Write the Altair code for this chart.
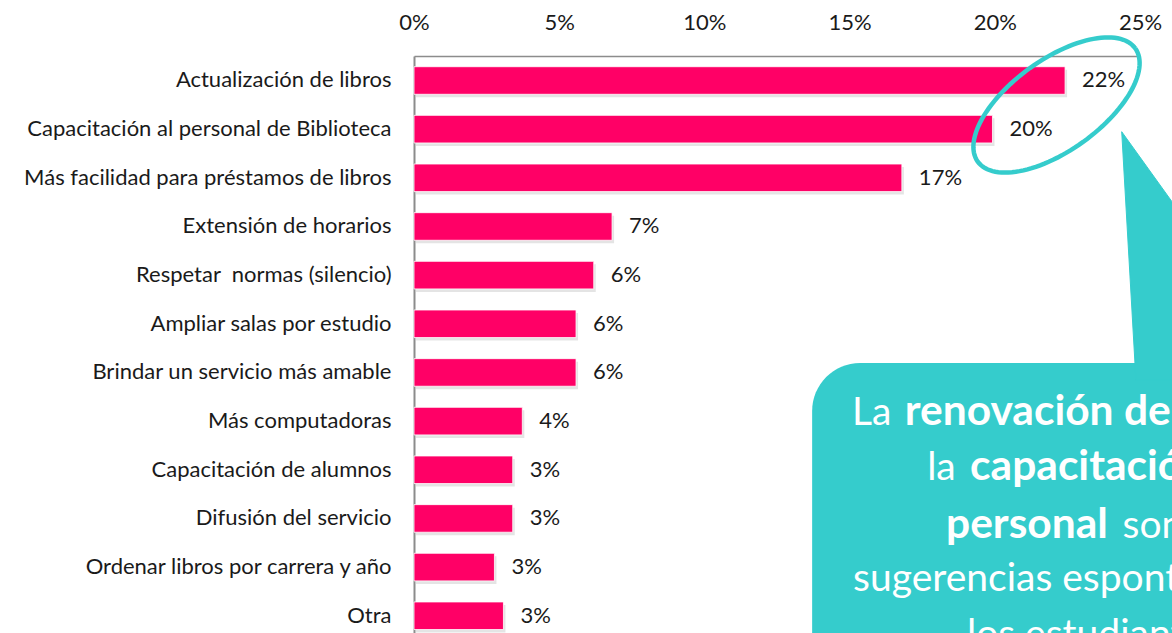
import altair as alt
import numpy as np
import pandas as pd

# Survey answers: spontaneous suggestions for the library (share of mentions)
categories = [
    "Actualización de libros",
    "Capacitación al personal de Biblioteca",
    "Más facilidad para préstamos de libros",
    "Extensión de horarios",
    "Respetar\u00a0 normas (silencio)",
    "Ampliar salas por estudio",
    "Brindar un servicio más amable",
    "Más computadoras",
    "Capacitación de alumnos",
    "Difusión del servicio",
    "Ordenar libros por carrera y año",
    "Otra",
]
shares = [0.2242, 0.1992, 0.1680, 0.0682, 0.0619, 0.0558, 0.0558,
          0.0373, 0.0340, 0.0340, 0.0277, 0.0308]
tick_values = [0.0, 0.05, 0.10, 0.15, 0.20, 0.25]

# Callout copy, split into plain / bold runs per line
callout_runs = [
    ("La", False), ("renovación de libros y", True),
    ("la", False), ("capacitación del", True),
    ("personal", True), ("son las", False),
    ("sugerencias espontáneas de", False),
    ("los estudiantes", False),
]
run_line = [0, 0, 1, 1, 2, 2, 3, 4]
run_x = [0.1508, 0.1690, 0.1767, 0.1915, 0.1832, 0.2440, 0.1512, 0.1904]
line_row = [7.08, 8.22, 9.40, 10.50, 11.64]

FONT = "Lato"
PINK = "#FF0066"
TEAL = "#35CCCC"
INK = "#1a1a1a"
AXIS_GREY = "#8c8c8c"

W, H = 726, 577
X_MAX = 0.25
PAD_INNER, PAD_OUTER, ALIGN = 0.433, 0.1455, 0.756
N = len(categories)
STEP = H / (N - PAD_INNER + 2 * PAD_OUTER)
FIRST_CENTER = (H - STEP * (N - PAD_INNER)) * ALIGN + STEP * (1 - PAD_INNER) / 2
# row-unit scale for annotations: row 0 = first bar centre
ROW_TOP = -FIRST_CENTER / STEP
ROW_BOTTOM = (H - FIRST_CENTER) / STEP
PX_PER_X = W / X_MAX

bars_df = pd.DataFrame({"sugerencia": categories, "share": shares})

x_scale = alt.Scale(domain=[0, X_MAX], nice=False, zero=True)
x_axis = alt.Axis(
    orient="top", values=tick_values, format=".0%", grid=False,
    ticks=False, tickSize=0, domainColor=AXIS_GREY, domainWidth=1.5,
    labelFont=FONT, labelFontSize=22, labelColor=INK,
    labelBaseline="alphabetic", labelPadding=27, labelFlush=False,
    title=None,
)
row_scale = alt.Scale(domain=[ROW_TOP, ROW_BOTTOM], reverse=True, nice=False, zero=False)


def x_enc(field):
    return alt.X(field, scale=x_scale, axis=x_axis, title=None)


base = alt.Chart(bars_df).encode(
    x=x_enc("share:Q"),
    y=alt.Y(
        "sugerencia:N",
        sort=categories,
        title=None,
        scale=alt.Scale(paddingInner=PAD_INNER, paddingOuter=PAD_OUTER, align=ALIGN),
        axis=alt.Axis(
            ticks=False, tickSize=0, domainColor=AXIS_GREY, domainWidth=2,
            labelFont=FONT, labelFontSize=22, labelColor=INK,
            labelPadding=23, labelLimit=420,
        ),
    ),
)

shadow = base.mark_bar(color="#555555", opacity=0.16, xOffset=2, yOffset=3)
bars = base.mark_bar(color=PINK, stroke="#ffffff", strokeWidth=0.8)
values = base.mark_text(
    align="left", baseline="middle", dx=17, font=FONT, fontSize=22, color=INK
).encode(text=alt.Text("share:Q", format=".0%"))

data_layer = alt.layer(shadow, bars, values)

# Callout box
box_df = pd.DataFrame({"x": [0.1371], "x2": [0.33], "y": [5.806], "y2": [13.0]})
box = alt.Chart(box_df).mark_rect(color=TEAL, cornerRadius=48).encode(
    x=x_enc("x:Q"),
    x2="x2:Q",
    y=alt.Y("y:Q", scale=row_scale, axis=None),
    y2="y2:Q",
)

# Callout pointer (triangle)
ptr_df = pd.DataFrame({
    "x": [0.2437, 0.2486, 0.3051, 0.2437],
    "row": [1.052, 6.155, 6.155, 1.052],
    "k": [0, 1, 2, 3],
})
pointer = alt.Chart(ptr_df).mark_line(fill=TEAL, stroke=TEAL, strokeWidth=1).encode(
    x=x_enc("x:Q"),
    y=alt.Y("row:Q", scale=row_scale, axis=None),
    order="k:Q",
)

# Highlight ellipse around the two leading answers
ell_cx, ell_crow = 0.22125, 0.5035
ell_a, ell_b, ell_tilt = 97.0, 45.5, np.deg2rad(35.7)   # semi-axes in px, tilt
phi = np.linspace(0, 2 * np.pi, 121)
dx_px = ell_a * np.cos(phi) * np.cos(ell_tilt) - ell_b * np.sin(phi) * np.sin(ell_tilt)
dy_px = -(ell_a * np.cos(phi) * np.sin(ell_tilt) + ell_b * np.sin(phi) * np.cos(ell_tilt))
ell_df = pd.DataFrame({
    "x": ell_cx + dx_px / PX_PER_X,
    "row": ell_crow + dy_px / STEP,
    "k": np.arange(len(phi)),
})
ellipse = alt.Chart(ell_df).mark_line(stroke=TEAL, strokeWidth=4.5).encode(
    x=x_enc("x:Q"),
    y=alt.Y("row:Q", scale=row_scale, axis=None),
    order="k:Q",
)

runs_df = pd.DataFrame({
    "txt": [r[0] for r in callout_runs],
    "bold": [r[1] for r in callout_runs],
    "x": run_x,
    "row": [line_row[i] for i in run_line],
})


def run_layer(bold):
    return alt.Chart(runs_df).transform_filter(
        alt.datum.bold if bold else ~alt.datum.bold
    ).mark_text(
        align="left", baseline="alphabetic", font=FONT,
        fontSize=42.5 if bold else 39,
        fontWeight="bold" if bold else "normal", color="#ffffff",
    ).encode(
        x=x_enc("x:Q"),
        y=alt.Y("row:Q", scale=row_scale, axis=None),
        text="txt:N",
    )


chart = alt.layer(
    data_layer, box, pointer, ellipse, run_layer(False), run_layer(True)
).resolve_scale(y="independent").properties(
    width=W,
    height=H,
    autosize=alt.AutoSizeParams(type="none"),
    padding={"left": 414, "top": 56, "right": 32, "bottom": 0},
    background="#ffffff",
).configure_view(stroke=None)

chart.save("out.html", embed_options={"renderer": "svg", "actions": False})
